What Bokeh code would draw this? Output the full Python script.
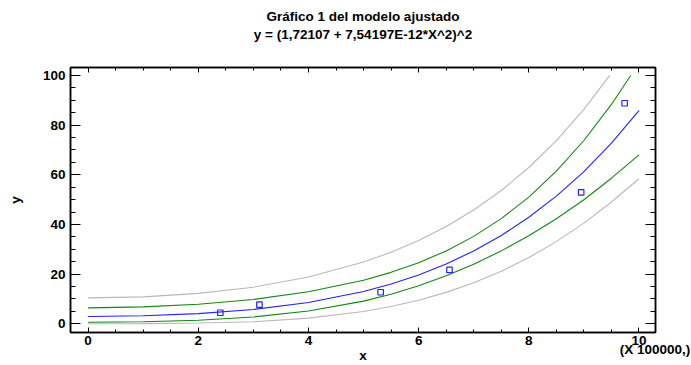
from bokeh.plotting import figure
from bokeh.models import Range1d, LinearAxis, SingleIntervalTicker, FixedTicker
from bokeh.embed import file_html
from bokeh.resources import INLINE

# ---- data (x in units of 100000) ----
x_fit = [0, 1, 2, 3, 4, 5, 5.5, 6, 6.5, 7, 7.5, 8, 8.5, 9, 9.5, 10]
y_fit = [2.96, 3.23, 4.09, 5.76, 8.57, 13.01, 16.02, 19.68, 24.08, 29.34,
         35.56, 42.88, 51.41, 61.31, 72.72, 85.80]

x_conf_up = [0, 1, 2, 3, 4, 5, 5.5, 6, 6.5, 7, 7.5, 8, 8.5, 9, 9.5, 9.85]
y_conf_up = [6.4, 6.8, 7.9, 9.81, 12.88, 17.56, 20.72, 24.60, 29.36, 35.20,
             42.35, 51.03, 61.45, 73.81, 88.32, 100]

x_conf_lo = [0, 1, 2, 3, 4, 5, 5.5, 6, 6.5, 7, 7.5, 8, 8.5, 9, 9.5, 10]
y_conf_lo = [0.6, 0.8, 1.45, 2.75, 5.14, 9.14, 11.92, 15.31, 19.33, 24.01,
             29.36, 35.43, 42.27, 49.97, 58.63, 68.0]

x_pred_up = [0, 1, 2, 3, 4, 5, 5.5, 6, 6.5, 7, 7.5, 8, 8.5, 9, 9.47]
y_pred_up = [10.45, 10.85, 12.26, 14.75, 18.85, 24.86, 28.82, 33.54, 39.16,
             45.82, 53.68, 62.93, 73.75, 86.37, 100]

x_pred_lo = [0, 1, 2, 3, 4, 5, 5.5, 6, 6.5, 7, 7.5, 8, 8.5, 9, 9.5, 10]
y_pred_lo = [0.05, 0.09, 0.30, 0.80, 2.29, 4.96, 6.95, 9.49, 12.65, 16.52,
             21.16, 26.66, 33.09, 40.53, 49.06, 58.4]

x_obs = [2.40, 3.11, 5.31, 6.56, 8.95, 9.74]
y_obs = [4.45, 7.7, 12.7, 21.7, 52.9, 88.8]

title_1 = "Gráfico 1 del modelo ajustado"
title_2 = "y = (1,72107 + 7,54197E-12*X^2)^2"
x_label = "x"
y_label = "y"
x_scale_note = "(X 100000,)"
x_scale_note_pos = 10.29

FONT = "Liberation Sans"
FS = "13.5px"

p = figure(width=691, height=365, output_backend="svg", toolbar_location=None,
           x_range=Range1d(-0.32, 10.3), y_range=Range1d(-3.5, 103.2),
           x_axis_location=None, y_axis_location=None,
           min_border_left=70, min_border_right=36, min_border_top=67,
           min_border_bottom=33)
p.grid.visible = False
p.outline_line_color = "black"
p.outline_line_width = 1.5
p.background_fill_color = "white"
p.border_fill_color = "white"


def style_label(ax):
    ax.axis_label_text_font = FONT
    ax.axis_label_text_font_style = "bold"
    ax.axis_label_text_font_size = FS
    ax.axis_label_text_color = "black"


def make_axis(kind, show_labels):
    if kind == "x":
        ticker = SingleIntervalTicker(interval=2, num_minor_ticks=4)
        tin, minin = 5, 3
    else:
        ticker = SingleIntervalTicker(interval=20, num_minor_ticks=4)
        tin, minin = 10, 5
    ax = LinearAxis(ticker=ticker)
    ax.axis_line_color = "black"
    ax.axis_line_width = 1.5
    ax.major_tick_in = tin
    ax.major_tick_out = 0
    ax.minor_tick_in = minin
    ax.minor_tick_out = 0
    ax.major_tick_line_color = "black"
    ax.minor_tick_line_color = "black"
    ax.major_tick_line_width = 1
    ax.minor_tick_line_width = 1
    ax.major_label_text_font = FONT
    ax.major_label_text_font_style = "bold"
    ax.major_label_text_color = "black"
    style_label(ax)
    if show_labels:
        ax.major_label_text_font_size = FS
    else:
        ax.major_label_text_font_size = "0px"
        ax.major_label_text_alpha = 0
        ax.major_label_standoff = 0
    return ax


def text_only_axis(ticks):
    ax = LinearAxis(ticker=FixedTicker(ticks=ticks))
    ax.axis_line_color = None
    ax.major_tick_line_color = None
    ax.minor_tick_line_color = None
    ax.major_tick_in = 0
    ax.major_tick_out = 0
    ax.major_label_text_font = FONT
    ax.major_label_text_font_style = "bold"
    ax.major_label_text_font_size = FS
    ax.major_label_text_color = "black"
    style_label(ax)
    return ax


ax_b = make_axis("x", True)
ax_b.major_label_standoff = 3
p.add_layout(ax_b, "below")

# second bottom axis: carries the scale note and the x label
ax_note = text_only_axis([x_scale_note_pos])
ax_note.major_label_overrides = {x_scale_note_pos: x_scale_note}
ax_note.major_label_standoff = -6
ax_note.axis_label = x_label
ax_note.axis_label_standoff = -12
p.add_layout(ax_note, "below")

# top: framed axis carrying the second title line, then one for the first line
ax_t = make_axis("x", False)
ax_t.axis_label = title_2
ax_t.axis_label_standoff = 26
p.add_layout(ax_t, "above")
ax_t2 = text_only_axis([])
ax_t2.major_label_text_font_size = "0px"
ax_t2.major_label_standoff = 0
ax_t2.axis_label = title_1
ax_t2.axis_label_standoff = 0
p.add_layout(ax_t2, "above")

ax_l = make_axis("y", True)
ax_l.major_label_standoff = 5
ax_l.axis_label = y_label
ax_l.axis_label_standoff = 17
p.add_layout(ax_l, "left")
ax_r = make_axis("y", False)
p.add_layout(ax_r, "right")

grey = "#b8b8b8"
green = "#118811"
blue = "#2222ff"

p.line(x_pred_up, y_pred_up, line_color=grey, line_width=1.1)
p.line(x_pred_lo, y_pred_lo, line_color=grey, line_width=1.1)
p.line(x_conf_up, y_conf_up, line_color=green, line_width=1.1)
p.line(x_conf_lo, y_conf_lo, line_color=green, line_width=1.1)
p.line(x_fit, y_fit, line_color=blue, line_width=1.1)
p.scatter(x_obs, y_obs, marker="square", size=5.5, line_color=blue,
          fill_color=None, line_width=1.2)

open("out.html", "w").write(file_html(p, INLINE))
